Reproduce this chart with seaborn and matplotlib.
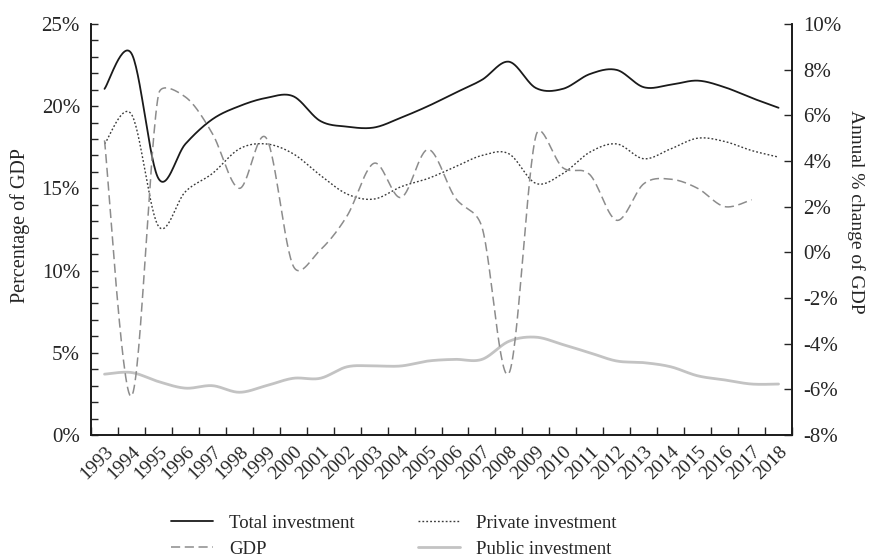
import numpy as np
import pandas as pd
import matplotlib
matplotlib.use("Agg")
import matplotlib.pyplot as plt
import matplotlib.ticker as mticker
import seaborn as sns

years = list(range(1993, 2019))

total_investment = [21.05, 23.2, 15.6, 17.7, 19.2, 20.0, 20.5, 20.6, 19.1, 18.75, 18.7, 19.3, 20.0,
                    20.8, 21.6, 22.7, 21.1, 21.05, 21.95, 22.2, 21.15, 21.3, 21.55, 21.15, 20.5, 19.9]
private_investment = [17.7, 19.5, 12.7, 14.8, 15.9, 17.4, 17.7, 17.1, 15.8, 14.65, 14.35, 15.1, 15.6,
                      16.3, 17.0, 17.1, 15.3, 15.9, 17.2, 17.7, 16.8, 17.4, 18.05, 17.85, 17.3, 16.9]
public_investment = [3.7, 3.8, 3.25, 2.85, 3.0, 2.6, 3.0, 3.45, 3.45, 4.15, 4.2, 4.2, 4.5,
                     4.6, 4.6, 5.7, 5.95, 5.5, 5.0, 4.5, 4.4, 4.15, 3.6, 3.35, 3.1, 3.1]
gdp_growth = [4.9, -6.3, 6.9, 6.8, 5.2, 2.8, 5.0, -0.6, 0.1, 1.6, 3.9, 2.4, 4.5,
              2.4, 1.1, -5.3, 5.1, 3.7, 3.4, 1.4, 3.0, 3.2, 2.8, 2.0, 2.3]  # no 2018 value

# pixel size of one year / one percent, used to mimic Excel's "smoothed line"
PX_YEAR = 26.96
PX_LEFT = 16.44
PX_RIGHT = 22.83


def smooth_curve(values, px_per_unit, steps=30):
    """Bezier curve through the points with Excel-style clamped control points."""
    y = np.asarray(values, dtype=float)
    x = np.arange(len(y), dtype=float)
    pts = np.column_stack([x * PX_YEAR, y * px_per_unit])
    n = len(pts)
    t = np.linspace(0, 1, steps, endpoint=False)[:, None]
    out = []
    for i in range(n - 1):
        p0, p1, p2, p3 = pts[max(i - 1, 0)], pts[i], pts[i + 1], pts[min(i + 2, n - 1)]
        d12 = np.linalg.norm(p2 - p1)
        d02 = np.linalg.norm(p2 - p0)
        d13 = np.linalg.norm(p3 - p1)
        f1 = 1 / 6 if d02 / 6 < d12 / 2 else d12 / (2 * d02)
        f2 = 1 / 6 if d13 / 6 < d12 / 2 else d12 / (2 * d13)
        b1 = p1 + f1 * (p2 - p0)
        b2 = p2 - f2 * (p3 - p1)
        seg = ((1 - t) ** 3) * p1 + 3 * ((1 - t) ** 2) * t * b1 + 3 * (1 - t) * t ** 2 * b2 + t ** 3 * p2
        out.append(seg)
    out.append(pts[-1][None, :])
    out = np.vstack(out)
    return pd.DataFrame({"pos": out[:, 0] / PX_YEAR, "value": out[:, 1] / px_per_unit})


sns.set_style("white")
plt.rcParams["font.family"] = ["Liberation Serif", "DejaVu Serif"]
plt.rcParams["font.size"] = 14

fig = plt.figure(figsize=(8.72, 5.57), dpi=100)
ax = fig.add_axes([0.1044, 0.219, 0.8039, 0.7381])
ax2 = ax.twinx()

sns.lineplot(data=smooth_curve(total_investment, PX_LEFT), x="pos", y="value", sort=False,
             estimator=None, color="#1a1a1a", lw=1.3, ax=ax, label="Total investment")
sns.lineplot(data=smooth_curve(private_investment, PX_LEFT), x="pos", y="value", sort=False,
             estimator=None, color="#3a3a3a", lw=1.0, dashes=(1.3, 1.5), ax=ax,
             label="Private investment")
sns.lineplot(data=smooth_curve(public_investment, PX_LEFT), x="pos", y="value", sort=False,
             estimator=None, color="#c3c3c3", lw=2.0, ax=ax, label="Public investment")
sns.lineplot(data=smooth_curve(gdp_growth, PX_RIGHT), x="pos", y="value", sort=False,
             estimator=None, color="#8c8c8c", lw=1.1, dashes=(6, 3), ax=ax2, label="GDP")

ax.set_xlim(-0.5, len(years) - 0.5)
ax.set_ylim(0, 25)
ax2.set_ylim(-8, 10)

# category axis: ticks between years, labels at centres
ax.set_xticks(np.arange(-0.5, len(years)))
ax.set_xticklabels([])
ax.set_xticks(np.arange(len(years)), minor=True)
ax.set_xticklabels([str(y) for y in years], minor=True, rotation=45, ha="right",
                   rotation_mode="anchor", fontsize=14)
ax.tick_params(axis="x", which="major", direction="in", length=6, width=1, bottom=True)
ax.tick_params(axis="x", which="minor", length=0, pad=6)

ax.yaxis.set_major_locator(mticker.MultipleLocator(5))
ax.yaxis.set_minor_locator(mticker.MultipleLocator(1))
ax.yaxis.set_major_formatter(mticker.FuncFormatter(lambda v, p: f"{v:.0f}%"))
ax.tick_params(axis="y", which="both", direction="in", length=5, width=1, left=True,
               labelsize=15, pad=8)

ax2.yaxis.set_major_locator(mticker.MultipleLocator(2))
ax2.yaxis.set_major_formatter(mticker.FuncFormatter(lambda v, p: f"{v:.0f}%"))
ax2.tick_params(axis="y", direction="in", length=6, width=1, right=True, labelsize=15, pad=8)

ax.set_xlabel("")
ax.set_ylabel("Percentage of GDP", fontsize=14.5, labelpad=8)
ax.yaxis.label.set_y(0.51)
ax2.set_ylabel("Annual % change of GDP", fontsize=14, rotation=270, labelpad=17)
ax2.yaxis.label.set_y(0.543)

for a in (ax, ax2):
    a.spines["top"].set_visible(False)
    for s in ("left", "right", "bottom"):
        a.spines[s].set_color("#1a1a1a")
        a.spines[s].set_linewidth(1.2)

h1, l1 = ax.get_legend_handles_labels()
h2, l2 = ax2.get_legend_handles_labels()
ax.get_legend().remove()
ax2.get_legend().remove()
handles = dict(zip(l1 + l2, h1 + h2))
order = ["Total investment", "GDP", "Private investment", "Public investment"]
fig.legend([handles[k] for k in order], order, loc="upper center", bbox_to_anchor=(0.452, 0.106),
           ncol=2, frameon=False, fontsize=13.5, handlelength=2.2, handletextpad=0.9,
           columnspacing=3.37, labelspacing=0.45)

fig.savefig("out.png", dpi=100)
